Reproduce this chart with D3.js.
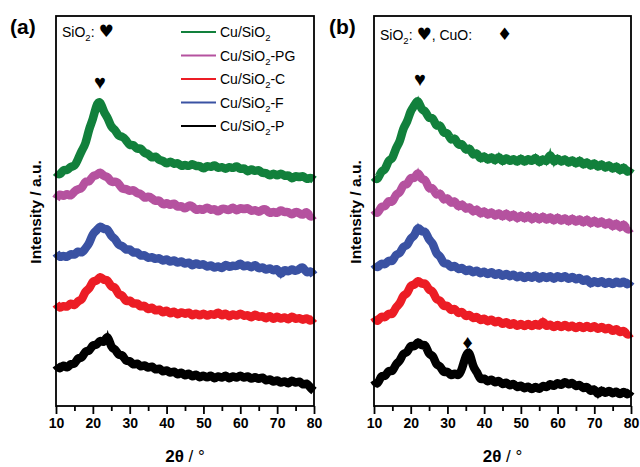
<!DOCTYPE html>
<html>
<head>
<meta charset="utf-8">
<script src="https://cdn.jsdelivr.net/npm/d3@7"></script>
<style>
  body { margin: 0; background: #fff; }
  svg { display: block; }
  text { font-family: "Liberation Sans", Arial, sans-serif; }
</style>
</head>
<body>
<script>
// 2theta grid, 10..80 deg in 1 deg steps
const theta = d3.range(10, 81, 1);

const sampleNames = ["Cu/SiO2", "Cu/SiO2-PG", "Cu/SiO2-C", "Cu/SiO2-F", "Cu/SiO2-P"];
const sampleColors = ["#12803c", "#b5529f", "#ec1d25", "#3a52a3", "#000000"];

// intensities (a.u., with stacking offset), panel (a)
const aCu = [
  233,229,236,234,239,238,246,255,260,277,
  285,301,305,292,288,277,276,268,269,265,
  259,261,255,258,251,252,246,250,244,245,
  240,245,240,243,238,241,238,242,238,240,
  235,240,237,241,236,239,235,239,236,240,
  235,238,232,237,233,236,231,233,228,233,
  228,233,228,231,225,230,227,230,225,228,
  225];
const aPG = [
  206,212,208,212,208,214,216,216,225,222,
  230,229,234,228,229,222,224,222,215,217,
  213,216,211,212,206,209,207,203,206,199,
  203,199,203,197,200,195,200,199,194,197,
  194,199,194,197,192,197,196,194,199,193,
  198,195,198,193,196,192,196,196,191,194,
  191,196,192,194,189,194,192,189,195,187,
  190];
const aC = [
  101,96,100,97,103,98,105,104,115,115,
  125,123,130,124,126,117,119,109,111,102,
  106,100,103,97,101,94,99,93,97,91,
  96,90,95,89,94,90,94,88,93,88,
  93,88,92,89,94,88,93,87,92,88,
  93,88,91,86,92,87,90,85,91,84,
  90,85,89,84,90,85,88,84,88,83,
  87];
const aF = [
  152,147,150,147,152,149,155,151,157,161,
  172,174,180,175,177,168,167,159,160,154,
  157,151,154,148,151,146,149,145,148,143,
  147,142,146,141,145,140,144,138,143,139,
  142,137,141,136,140,135,142,137,140,138,
  143,137,141,136,142,135,139,134,138,133,
  138,128,137,132,137,133,136,139,131,135,
  130];
const aP = [
  40,35,41,36,42,40,48,46,55,53,
  61,59,66,61,72,56,57,49,51,43,
  45,39,43,37,41,36,40,34,38,32,
  36,31,35,29,34,28,33,27,32,26,
  31,26,31,25,30,26,31,25,30,26,
  31,26,30,25,29,25,29,23,27,22,
  26,21,25,20,26,21,25,19,23,17,
  14];

// panel (b)
const bCu = [
  228,224,235,234,246,245,258,262,278,282,
  295,299,307,294,295,285,289,277,282,270,
  274,263,269,258,263,253,259,248,254,244,
  251,243,250,242,251,241,249,242,248,241,
  249,241,248,242,250,240,248,241,254,240,
  249,241,248,240,247,239,247,238,245,237,
  244,236,243,235,242,234,241,232,240,231,
  237];
const bPG = [
  195,190,200,197,206,201,212,211,222,219,
  229,225,235,224,227,214,219,208,214,203,
  209,200,206,196,203,194,200,191,198,189,
  196,188,195,187,194,186,194,185,193,184,
  192,184,192,183,191,183,191,183,190,182,
  190,182,189,181,189,181,188,180,188,179,
  187,179,186,178,185,176,184,175,183,174,
  177];
const bC = [
  88,82,90,86,93,89,99,100,111,110,
  121,119,126,120,123,114,115,104,106,97,
  101,93,98,90,95,87,92,85,90,83,
  88,82,87,81,86,79,85,78,84,77,
  83,77,83,77,83,77,86,77,82,76,
  82,76,82,76,81,75,81,75,81,75,
  81,74,80,74,79,72,78,71,76,69,
  72];
const bF = [
  141,136,143,139,146,142,152,150,160,158,
  168,168,180,172,175,164,163,150,150,140,
  143,136,141,134,139,132,137,131,136,130,
  135,129,135,128,134,127,133,127,132,126,
  131,125,131,125,132,124,131,125,131,124,
  131,125,131,124,130,124,129,122,128,119,
  126,120,126,119,125,119,125,120,125,119,
  124];
const bP = [
  25,19,31,27,36,32,42,43,53,51,
  61,57,65,58,62,49,51,39,40,31,
  35,28,33,28,36,50,55,37,34,24,
  28,22,27,21,26,19,24,18,23,16,
  21,15,20,14,20,14,21,16,23,17,
  24,18,25,19,24,17,22,15,20,12,
  18,8,17,10,16,10,15,9,15,9,
  14];

const xTicks = [10, 20, 30, 40, 50, 60, 70, 80];
const xMinorTicks = [15, 25, 35, 45, 55, 65, 75];

// peak markers: [panel, 2theta, intensity, symbol]
const peakMarks = [
  ["a", 21.9, 323, "\u2665"],
  ["b", 22.5, 326, "\u2665"],
  ["b", 35.5, 63, "\u2666"]
];

const width = 640, height = 467;
const plotTop = 16, plotBottom = 406;

const panels = [
  {id: "a", left: 56, right: 314, series: [aCu, aPG, aC, aF, aP]},
  {id: "b", left: 374, right: 631, series: [bCu, bPG, bC, bF, bP]}
];

const svg = d3.select("body").append("svg")
  .attr("width", width)
  .attr("height", height);

const y = d3.scaleLinear().domain([-1, 389]).range([plotBottom, plotTop]);

panels.forEach((p, pi) => {
  const x = d3.scaleLinear().domain([10, 80]).range([p.left, p.right]);
  const g = svg.append("g");

  // the patterns: a thick smoothed body plus the raw jagged trace on top
  const smooth = d3.line()
    .x((d, i) => x(theta[i]))
    .y(d => y(d))
    .curve(d3.curveBasis);
  const raw = d3.line()
    .x((d, i) => x(theta[i]))
    .y(d => y(d));

  g.selectAll("path.body")
    .data(p.series)
    .join("path")
      .attr("class", "body")
      .attr("fill", "none")
      .attr("stroke", (d, i) => sampleColors[i])
      .attr("stroke-width", 8.5)
      .attr("d", smooth);

  g.selectAll("path.trace")
    .data(p.series)
    .join("path")
      .attr("class", "trace")
      .attr("fill", "none")
      .attr("stroke", (d, i) => sampleColors[i])
      .attr("stroke-width", 1.8)
      .attr("d", raw);

  // frame
  g.append("rect")
    .attr("x", p.left)
    .attr("y", plotTop)
    .attr("width", p.right - p.left)
    .attr("height", plotBottom - plotTop)
    .attr("fill", "none")
    .attr("stroke", "#000")
    .attr("stroke-width", 1.8);

  // bottom axis, ticks pointing out
  const axis = g.append("g").attr("transform", `translate(0,${plotBottom})`);
  axis.call(d3.axisBottom(x).tickValues(xTicks).tickSize(8).tickPadding(4).tickFormat(d3.format("d")));
  axis.append("g").call(d3.axisBottom(x).tickValues(xMinorTicks).tickSize(5).tickFormat(""));
  axis.selectAll(".domain").remove();
  axis.selectAll("line").attr("stroke", "#000").attr("stroke-width", 1.8);
  axis.selectAll("text")
    .attr("fill", "#000")
    .attr("font-family", "Liberation Sans, Arial, sans-serif")
    .attr("font-size", 14)
    .attr("font-weight", "bold");

  // axis titles
  const xt = g.append("text")
    .attr("x", (p.left + p.right) / 2)
    .attr("y", 462)
    .attr("text-anchor", "middle")
    .attr("font-size", 17);
  xt.append("tspan").attr("font-weight", "bold").text("2\u03b8");
  xt.append("tspan").text(" / \u00b0");

  const yx = pi === 0 ? 37 : 357;
  g.append("text")
    .attr("transform", `translate(${yx},212) rotate(-90)`)
    .attr("text-anchor", "middle")
    .attr("dominant-baseline", "middle")
    .attr("font-size", 15.5)
    .attr("font-weight", "bold")
    .text("Intensity / a.u.");

  // panel letter
  g.append("text")
    .attr("x", pi === 0 ? 10 : 329)
    .attr("y", 34)
    .attr("font-family", "Liberation Serif, Times New Roman, serif")
    .attr("font-size", 21)
    .attr("font-weight", "bold")
    .text(`(${p.id})`);

  // phase key in the corner
  const key = g.append("text")
    .attr("x", p.left + 6)
    .attr("y", pi === 0 ? 37 : 40)
    .attr("font-size", 14);
  key.append("tspan").text("SiO");
  key.append("tspan").attr("font-size", 9.5).attr("dy", 4).text("2");
  key.append("tspan").attr("dy", -4).text(": ");
  key.append("tspan").attr("font-size", 17).attr("font-family", "DejaVu Sans").text("\u2665");
  if (pi === 1) {
    key.append("tspan").text(", CuO:");
    key.append("tspan").attr("x", 497).attr("font-size", 17).attr("font-family", "DejaVu Sans").text("\u2666");
  }

  // peak markers
  g.selectAll("text.mark")
    .data(peakMarks.filter(m => m[0] === p.id))
    .join("text")
      .attr("class", "mark")
      .attr("x", d => x(d[1]))
      .attr("y", d => y(d[2]))
      .attr("text-anchor", "middle")
      .attr("dominant-baseline", "central")
      .attr("font-family", "DejaVu Sans")
      .attr("font-size", 20)
      .text(d => d[3]);
});

// legend, panel (a) only
const legend = svg.append("g");
const rowY = d3.scalePoint().domain(sampleNames).range([32, 126]);
sampleNames.forEach((name, i) => {
  const ry = rowY(name);
  legend.append("line")
    .attr("x1", 181).attr("x2", 216)
    .attr("y1", ry).attr("y2", ry)
    .attr("stroke", sampleColors[i])
    .attr("stroke-width", 2.2);
  const t = legend.append("text")
    .attr("x", 220)
    .attr("y", ry + 5)
    .attr("font-size", 14);
  const parts = name.split("SiO2");
  t.append("tspan").text(parts[0] + "SiO");
  t.append("tspan").attr("font-size", 9.5).attr("dy", 4).text("2");
  t.append("tspan").attr("dy", -4).text(parts[1]);
});
</script>
</body>
</html>
